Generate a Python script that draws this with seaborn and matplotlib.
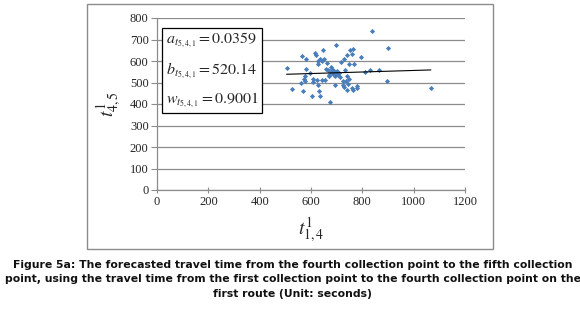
import matplotlib
matplotlib.use("Agg")
import matplotlib.pyplot as plt
import seaborn as sns
import pandas as pd
from matplotlib.patches import Rectangle

# travel time from point 1 to point 4 (x) and point 4 to point 5 (y), seconds
t14 = [839, 696, 765, 752, 648, 614, 619, 566, 758, 739, 579, 794, 652, 635, 626,
       641, 729, 718, 747, 766, 628, 661, 505, 582, 678, 657, 667, 682, 691, 696,
       687, 677, 700, 669, 734, 830, 810, 575, 714, 741, 723, 736, 749, 574, 607,
       622, 641, 609, 560, 578, 694, 726, 743, 628, 778, 780, 765, 758, 729, 525,
       570, 632, 741, 603, 635, 674, 901, 897, 1067, 866, 690, 702, 684, 705, 672,
       710, 693, 598, 655]
t45 = [738, 673, 657, 653, 651, 636, 628, 622, 631, 629, 609, 620, 611, 608, 601,
       598, 611, 595, 584, 584, 584, 589, 567, 564, 572, 563, 558, 561, 555, 549,
       546, 550, 540, 536, 557, 560, 550, 530, 527, 530, 505, 508, 518, 515, 516,
       512, 513, 502, 499, 505, 488, 487, 492, 488, 485, 473, 467, 474, 481, 470,
       462, 460, 465, 437, 437, 409, 659, 505, 474, 560, 537, 552, 543, 534, 528,
       545, 530, 545, 510]

a_coef = 0.0359
b_coef = 520.14
w_coef = 0.9001

df = pd.DataFrame({"t14": t14, "t45": t45})
x_line = [min(t14), max(t14)]
line_df = pd.DataFrame({"x": x_line, "y": [b_coef + a_coef * v for v in x_line]})

sns.set_style("white")
plt.rcParams["mathtext.fontset"] = "stix"
plt.rcParams["font.family"] = ["Liberation Serif", "DejaVu Serif"]

fig = plt.figure(figsize=(5.8, 3.1), dpi=100)
ax = fig.add_axes([157 / 580, 1 - 190 / 310, 308 / 580, 172 / 310])

# outer chart frame
fig.patches.append(Rectangle((87 / 580, 1 - 249 / 310), 406 / 580, 245 / 310,
                             transform=fig.transFigure, fill=False,
                             edgecolor="#8c8c8c", linewidth=1.0))

ax.set_yticks(range(0, 801, 100))
ax.set_xticks(range(0, 1201, 200))
ax.yaxis.grid(True, color="#8c8c8c", linewidth=0.9)
ax.xaxis.grid(False)
ax.set_axisbelow(True)

sns.scatterplot(data=df, x="t14", y="t45", ax=ax, marker="D", s=7,
                color="#4a7ebb", edgecolor="#4a7ebb", linewidth=0, zorder=3)
sns.lineplot(data=line_df, x="x", y="y", ax=ax, color="black", linewidth=0.8,
             zorder=4)

ax.set_xlim(0, 1200)
ax.set_ylim(0, 800)
for s in ["top", "right"]:
    ax.spines[s].set_visible(False)
for s in ["left", "bottom"]:
    ax.spines[s].set_color("#8c8c8c")
    ax.spines[s].set_linewidth(0.9)
ax.tick_params(axis="both", which="both", direction="out", length=4, width=0.8,
               color="#8c8c8c", labelsize=9, pad=2, left=True, bottom=True)
ax.tick_params(axis="x", direction="inout", length=5)

ax.set_xlabel(r"$t^{1}_{1,4}$", fontsize=14, labelpad=5)
ax.set_ylabel(r"$t^{1}_{4,5}$", fontsize=14, labelpad=4)

box_text = (r"$a_{t_{5,4,1}} = 0.0359$" + "\n" +
            r"$b_{t_{5,4,1}} = 520.14$" + "\n" +
            r"$w_{t_{5,4,1}} = 0.9001$")
ax.text(0.028, 0.925, box_text, transform=ax.transAxes, fontsize=11.5,
        va="top", ha="left", linespacing=1.75, zorder=5,
        bbox=dict(boxstyle="square,pad=0.2", facecolor="white",
                  edgecolor="black", linewidth=0.9))

caption = ("Figure 5a: The forecasted travel time from the fourth collection point to the fifth collection\n"
           "point, using the travel time from the first collection point to the fourth collection point on the\n"
           "first route (Unit: seconds)")
fig.text(0.505, 1 - 260 / 310, caption, ha="center", va="top", fontsize=7.8,
         fontweight="bold", family="DejaVu Sans", linespacing=1.55,
         color="#111111")

fig.savefig("out.png", dpi=100)
